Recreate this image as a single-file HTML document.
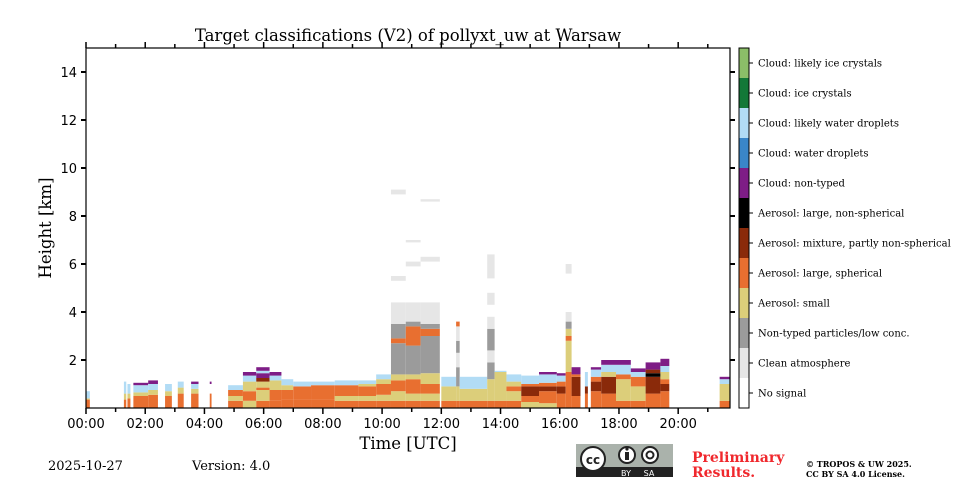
<!DOCTYPE html>
<html><head><meta charset="utf-8"><style>
html,body{margin:0;padding:0;background:#fff;}
svg{display:block;}
.serif{font-family:"DejaVu Serif","Liberation Serif",serif;}
.sans{font-family:"DejaVu Sans","Liberation Sans",sans-serif;}
</style></head><body>
<svg id="chart" width="960" height="480" viewBox="0 0 960 480" xmlns="http://www.w3.org/2000/svg">
<g id="plot"></g>
<g id="axes"></g>
<g id="cbar"></g>
<text x="408" y="41" text-anchor="middle" font-size="16.5" class="serif">Target classifications (V2) of pollyxt_uw at Warsaw</text>
<text x="408" y="449" text-anchor="middle" font-size="16.5" class="serif">Time [UTC]</text>
<text transform="translate(51,228) rotate(-90)" text-anchor="middle" font-size="16.5" class="serif">Height [km]</text>
<text x="48" y="470" font-size="13" class="serif">2025-10-27</text>
<text x="192" y="470" font-size="13" class="serif">Version: 4.0</text>
<g>
<rect x="576" y="444" width="97" height="33" fill="#aab2ab"/>
<rect x="576" y="467" width="97" height="10" fill="#222"/>
<circle cx="593" cy="459" r="12" fill="#fff" stroke="#222" stroke-width="2"/>
<text x="593" y="464" text-anchor="middle" font-size="12" font-weight="bold" class="sans" fill="#222">cc</text>
<circle cx="627" cy="455" r="8" fill="#fff" stroke="#222" stroke-width="2"/>
<circle cx="650" cy="455" r="8" fill="#fff" stroke="#222" stroke-width="2"/>
<rect x="625" y="452" width="4" height="8" fill="#222"/><circle cx="627" cy="449" r="1.6" fill="#222"/>
<circle cx="650" cy="455" r="3.5" fill="none" stroke="#222" stroke-width="2"/>
<text x="626" y="476" text-anchor="middle" font-size="8" fill="#fff" class="sans">BY</text>
<text x="649" y="476" text-anchor="middle" font-size="8" fill="#fff" class="sans">SA</text>
</g>
<text x="692" y="462" font-size="14" font-weight="bold" fill="#f0282d" class="serif">Preliminary</text>
<text x="692" y="477" font-size="14" font-weight="bold" fill="#f0282d" class="serif">Results.</text>
<text x="806" y="467" font-size="8" font-weight="bold" class="serif">© TROPOS &amp; UW 2025.</text>
<text x="806" y="477" font-size="8" font-weight="bold" class="serif">CC BY SA 4.0 License.</text>
</svg>
<script>
// class names and colours (index 0 = No signal ... 11 = Cloud: likely ice crystals)
const classNames = ["No signal","Clean atmosphere","Non-typed particles/low conc.","Aerosol: small","Aerosol: large, spherical","Aerosol: mixture, partly non-spherical","Aerosol: large, non-spherical","Cloud: non-typed","Cloud: water droplets","Cloud: likely water droplets","Cloud: ice crystals","Cloud: likely ice crystals"];
const classColors = ["#ffffff","#e6e6e6","#9b9b9b","#dcce7a","#e86f30","#8a2a0a","#000000","#7e1d86","#3a86c8","#b2dcf5","#137838","#8bbe68"];
const xTickLabels = ["00:00","02:00","04:00","06:00","08:00","10:00","12:00","14:00","16:00","18:00","20:00"];
const yTickLabels = [2,4,6,8,10,12,14];
// time segments in hours (start, end)
const segStart = [0.0,1.28,1.40,1.60,2.10,2.67,3.10,3.55,4.18,4.80,5.30,5.75,6.20,6.60,7.00,7.60,8.40,9.20,9.80,10.30,10.80,11.30,12.00,12.50,12.62,13.55,13.80,14.20,14.70,15.30,15.90,16.20,16.40,16.85,17.05,17.40,17.90,18.40,18.90,19.40,21.40];
const segEnd   = [0.13,1.36,1.50,2.10,2.43,2.90,3.30,3.80,4.24,5.30,5.75,6.20,6.60,7.00,7.60,8.40,9.20,9.80,10.30,10.80,11.30,11.95,12.50,12.62,13.55,13.80,14.20,14.70,15.30,15.90,16.20,16.40,16.70,16.95,17.40,17.90,18.40,18.90,19.40,19.70,21.75];
// stacked layers per segment: [classIndex, topKm] from ground up
const segLayers = [
 [[4,0.35],[3,0.4],[9,0.7]],
 [[4,0.35],[3,0.6],[9,1.1]],
 [[4,0.4],[3,0.6],[9,1.0]],
 [[4,0.5],[3,0.65],[9,0.95],[7,1.05]],
 [[4,0.55],[3,0.75],[9,1.0],[7,1.15]],
 [[4,0.5],[3,0.7],[9,1.0]],
 [[4,0.6],[3,0.85],[9,1.1]],
 [[4,0.6],[3,0.8],[9,1.0],[7,1.1]],
 [[4,0.6],[0,1.0],[7,1.1]],
 [[4,0.3],[3,0.5],[4,0.75],[9,0.95]],
 [[3,0.3],[4,0.7],[3,1.1],[9,1.35],[7,1.5]],
 [[4,0.3],[3,0.75],[4,0.85],[3,1.1],[5,1.25],[7,1.45],[9,1.55],[7,1.7]],
 [[4,0.3],[4,0.75],[3,1.15],[9,1.35],[7,1.5]],
 [[4,0.35],[4,0.75],[3,0.95],[9,1.2]],
 [[4,0.35],[4,0.9],[9,1.1]],
 [[4,0.35],[4,0.95],[9,1.1]],
 [[4,0.3],[3,0.5],[4,0.95],[9,1.15]],
 [[4,0.3],[3,0.5],[4,0.9],[3,1.0],[9,1.15]],
 [[4,0.3],[3,0.55],[4,1.0],[3,1.2],[9,1.4]],
 [[4,0.3],[3,0.7],[4,1.15],[3,1.4],[2,2.7],[4,2.9],[2,3.5],[1,4.4],[0,5.3],[1,5.5],[0,8.9],[1,9.1]],
 [[4,0.3],[3,0.6],[4,1.2],[3,1.4],[2,2.6],[4,3.4],[2,3.6],[1,4.4],[0,5.9],[1,6.1],[0,6.9],[1,7.0]],
 [[4,0.3],[3,0.6],[4,1.0],[3,1.45],[2,3.0],[4,3.3],[2,3.5],[1,4.4],[0,6.1],[1,6.3],[0,8.6],[1,8.7]],
 [[4,0.3],[3,0.9],[9,1.3]],
 [[4,0.3],[3,0.9],[2,1.7],[1,2.3],[2,2.8],[1,3.4],[4,3.6]],
 [[4,0.3],[3,0.8],[9,1.3]],
 [[4,0.3],[3,1.2],[2,1.9],[1,2.4],[2,3.3],[1,3.8],[0,4.3],[1,4.8],[0,5.4],[1,6.4],[0,7.7]],
 [[4,0.3],[3,1.5],[9,1.55]],
 [[4,0.3],[3,0.7],[4,0.9],[3,1.1],[9,1.4]],
 [[3,0.25],[4,0.5],[5,0.9],[4,1.0],[9,1.35]],
 [[3,0.2],[4,0.7],[5,0.9],[4,1.05],[9,1.4],[7,1.5]],
 [[4,0.6],[5,0.9],[4,1.1],[9,1.35],[7,1.45]],
 [[4,1.5],[3,2.8],[4,3.0],[3,3.3],[2,3.6],[1,4.0],[0,5.6],[1,6.0],[0,6.7]],
 [[4,0.5],[5,1.3],[4,1.4],[7,1.7]],
 [[4,0.6],[5,0.9],[9,1.5]],
 [[4,0.7],[5,1.1],[4,1.3],[9,1.6],[7,1.7]],
 [[4,0.6],[5,1.3],[3,1.5],[9,1.8],[7,2.0]],
 [[4,0.3],[3,1.2],[4,1.4],[9,1.8],[7,2.0]],
 [[4,0.3],[3,0.9],[4,1.3],[9,1.5],[7,1.65]],
 [[4,0.6],[5,1.3],[6,1.45],[5,1.6],[7,1.9]],
 [[4,0.7],[5,1.0],[4,1.2],[3,1.5],[9,1.75],[7,2.05]],
 [[4,0.3],[3,1.0],[9,1.2],[7,1.3]]
];
const NS='http://www.w3.org/2000/svg';
const L=86,R=730,T=48,B=408,HMAX=21.75,KMAX=15;
const xs=h=>L+h/HMAX*(R-L);
const ys=k=>B-k/KMAX*(B-T);
function mk(tag,attrs,parent){const e=document.createElementNS(NS,tag);for(const k in attrs)e.setAttribute(k,attrs[k]);parent.appendChild(e);return e;}
const plot=document.getElementById('plot');
segStart.forEach((s,i)=>{
  let bottom=0;
  segLayers[i].forEach((ly,j)=>{
    const top=ly[1];
    if(ly[0]!==0){
      const r=mk('rect',{x:xs(s),width:Math.max(xs(segEnd[i])-xs(s),1),y:ys(top),height:ys(bottom)-ys(top),fill:classColors[ly[0]]},plot);
      
      
    }
    bottom=top;
  });
});
const ax=document.getElementById('axes');
const fr=mk('rect',{x:L,y:T,width:R-L,height:B-T,fill:'none',stroke:'#000','stroke-width':1.2},ax);


for(let h=0;h<=21;h++){
  const x=xs(h),len=h%2===0?6:4;
  mk('line',{x1:x,x2:x,y1:B,y2:B+len,stroke:'#000','stroke-width':1.5},ax);
  mk('line',{x1:x,x2:x,y1:T,y2:T-len,stroke:'#000','stroke-width':1.5},ax);
}
xTickLabels.forEach((lab,i)=>{
  const t=mk('text',{x:xs(i*2),y:B+20,'text-anchor':'middle','font-size':13,class:'sans'},ax);
  t.textContent=lab;
  
  
});
yTickLabels.forEach(v=>{
  const y=ys(v);
  mk('line',{x1:L-5,x2:L,y1:y,y2:y,stroke:'#000','stroke-width':2},ax);
  mk('line',{x1:R,x2:R+5,y1:y,y2:y,stroke:'#000','stroke-width':2},ax);
  const t=mk('text',{x:L-9,y:y+5,'text-anchor':'end','font-size':13,class:'sans'},ax);
  t.textContent=v;
  
  
});
const cb=document.getElementById('cbar');
const CX=739,CW=10,CT=48,CB=408,n=classNames.length,bh=(CB-CT)/n;
classNames.forEach((nm,i)=>{
  const y=CB-(i+1)*bh;
  const r=mk('rect',{x:CX,y:y,width:CW,height:bh,fill:classColors[i]},cb);
  
  
  mk('line',{x1:CX+CW,x2:CX+CW+4,y1:y+bh/2,y2:y+bh/2,stroke:'#000','stroke-width':1},cb);
  const t=mk('text',{x:758,y:y+bh/2+3.5,'font-size':10,class:'serif'},cb);
  t.textContent=nm;
  
  
});
const cf=mk('rect',{x:CX,y:CT,width:CW,height:CB-CT,fill:'none',stroke:'#000','stroke-width':1},cb);


</script>
</body></html>
